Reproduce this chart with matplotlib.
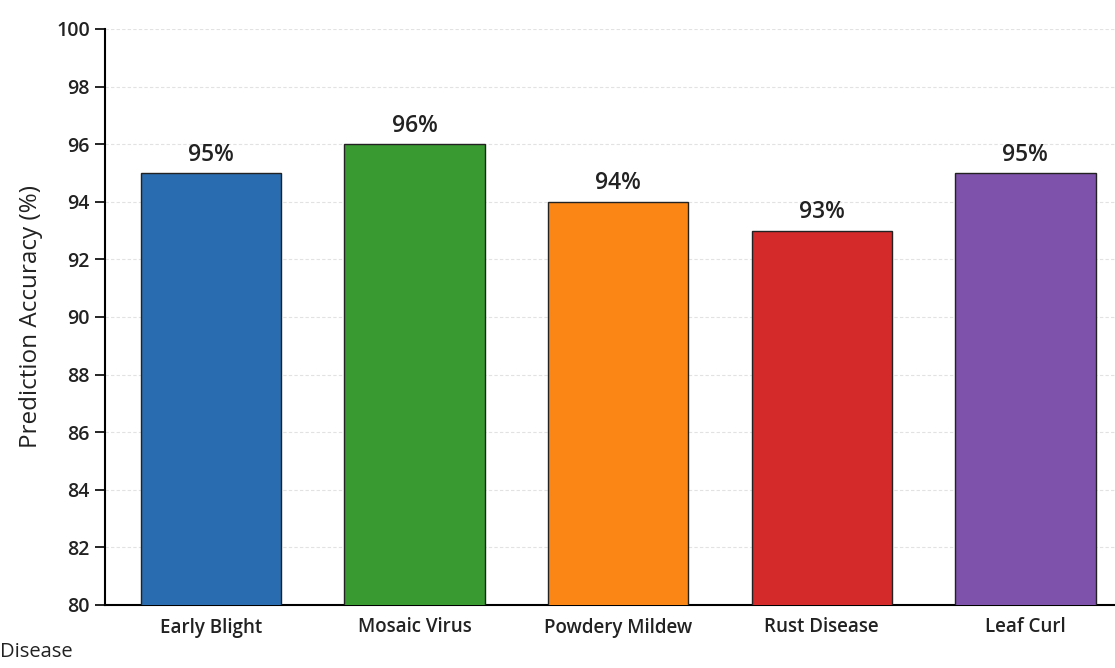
import matplotlib
matplotlib.use("Agg")
import matplotlib.pyplot as plt

diseases = ["Early Blight", "Mosaic Virus", "Powdery Mildew", "Rust Disease", "Leaf Curl"]
accuracy = [95, 96, 94, 93, 95]
colors = ["#2a6cb0", "#3a9a32", "#fb8615", "#d42a2a", "#7e52aa"]
yticks = list(range(80, 101, 2))

plt.rcParams["font.family"] = ["Open Sans", "DejaVu Sans"]

fig = plt.figure(figsize=(11.15, 6.68), dpi=100)
ax = fig.add_axes([105 / 1115, 1 - 605 / 668, 1 - 105 / 1115, (605 - 29) / 668])

x = list(range(len(diseases)))
bars = ax.bar(x, accuracy, width=0.69, color=colors, edgecolor="#222222", linewidth=1.0, zorder=3)

for xi, v in zip(x, accuracy):
    ax.text(xi, v + 0.22, f"{v}%", ha="center", va="bottom", fontsize=16.5, fontweight="semibold", color="#222222")

ax.set_ylim(80, 100)
ax.set_xlim(-0.52, 4.44)
ax.set_yticks(yticks)
ax.set_yticklabels([str(t) for t in yticks], fontsize=14, fontweight="semibold", color="#222222")
ax.set_xticks(x)
ax.set_xticklabels(diseases, fontsize=13.5, fontweight="semibold", color="#222222")
ax.tick_params(axis="x", length=0, pad=9)
ax.tick_params(axis="y", length=7, width=1.2, pad=4)

ax.yaxis.grid(True, linestyle=(0, (3, 2)), color="#e2e2e2", linewidth=0.8, zorder=0)
ax.set_axisbelow(True)
for s in ["top", "right"]:
    ax.spines[s].set_visible(False)
ax.spines["left"].set_linewidth(1.5)
ax.spines["bottom"].set_linewidth(1.5)

ax.set_ylabel("Prediction Accuracy (%)", fontsize=17.5, color="#222222", labelpad=9)
fig.text(0.0, 1 - 652 / 668, "Disease", fontsize=14.5, color="#222222", ha="left", va="center")

fig.savefig("out.png", dpi=100)
